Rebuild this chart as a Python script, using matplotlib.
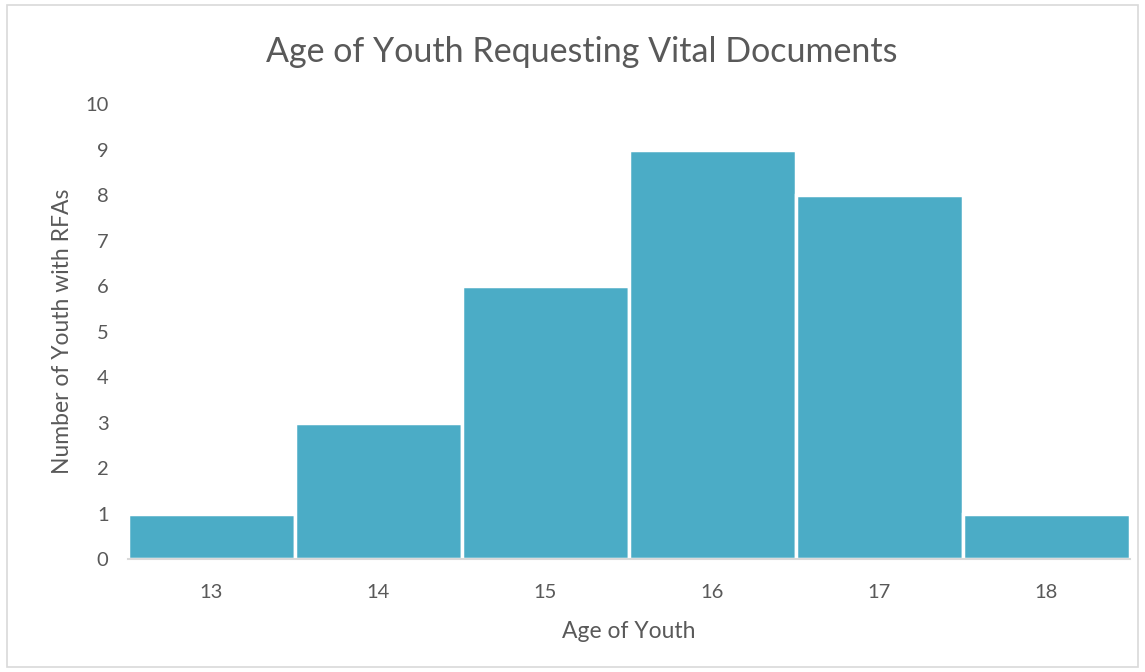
"""Age of youth requesting vital documents - histogram style bar chart."""

import matplotlib.pyplot as plt
from matplotlib.patches import Rectangle

ages = [13, 14, 15, 16, 17, 18]
counts = [1, 3, 6, 9, 8, 1]
y_ticks = list(range(0, 11))

BAR_COLOR = "#4BACC6"
TEXT_COLOR = "#595959"

plt.rcParams["font.family"] = ["Lato", "DejaVu Sans"]

fig = plt.figure(figsize=(11.45, 6.72), dpi=100)
ax = fig.add_axes([0.1118, 0.168, 0.875, 0.677])

ax.bar(ages, counts, width=1.0, color=BAR_COLOR, edgecolor="white", linewidth=2.5)

ax.set_xlim(ages[0] - 0.5, ages[-1] + 0.5)
ax.set_ylim(0, 10)
ax.set_xticks(ages)
ax.set_yticks(y_ticks)
ax.tick_params(axis="both", length=0, colors=TEXT_COLOR, labelsize=14.5)
ax.tick_params(axis="x", pad=18)
ax.tick_params(axis="y", pad=14)

for side in ["top", "right", "left"]:
    ax.spines[side].set_visible(False)
ax.spines["bottom"].set_color("#D9D9D9")
ax.spines["bottom"].set_linewidth(1.5)

ax.set_xlabel("Age of Youth", fontsize=16.5, color=TEXT_COLOR, labelpad=14)
ax.set_ylabel("Number of Youth with RFAs", fontsize=16.5, color=TEXT_COLOR, labelpad=9)

fig.text(0.508, 0.922, "Age of Youth Requesting Vital Documents", ha="center",
         va="center", fontsize=24.5, color=TEXT_COLOR)

# chart border
fig.patches.append(Rectangle((0.006, 0.007), 0.988, 0.985, transform=fig.transFigure,
                             fill=False, edgecolor="#D9D9D9", linewidth=1.2))

fig.savefig("out.png", dpi=100)
